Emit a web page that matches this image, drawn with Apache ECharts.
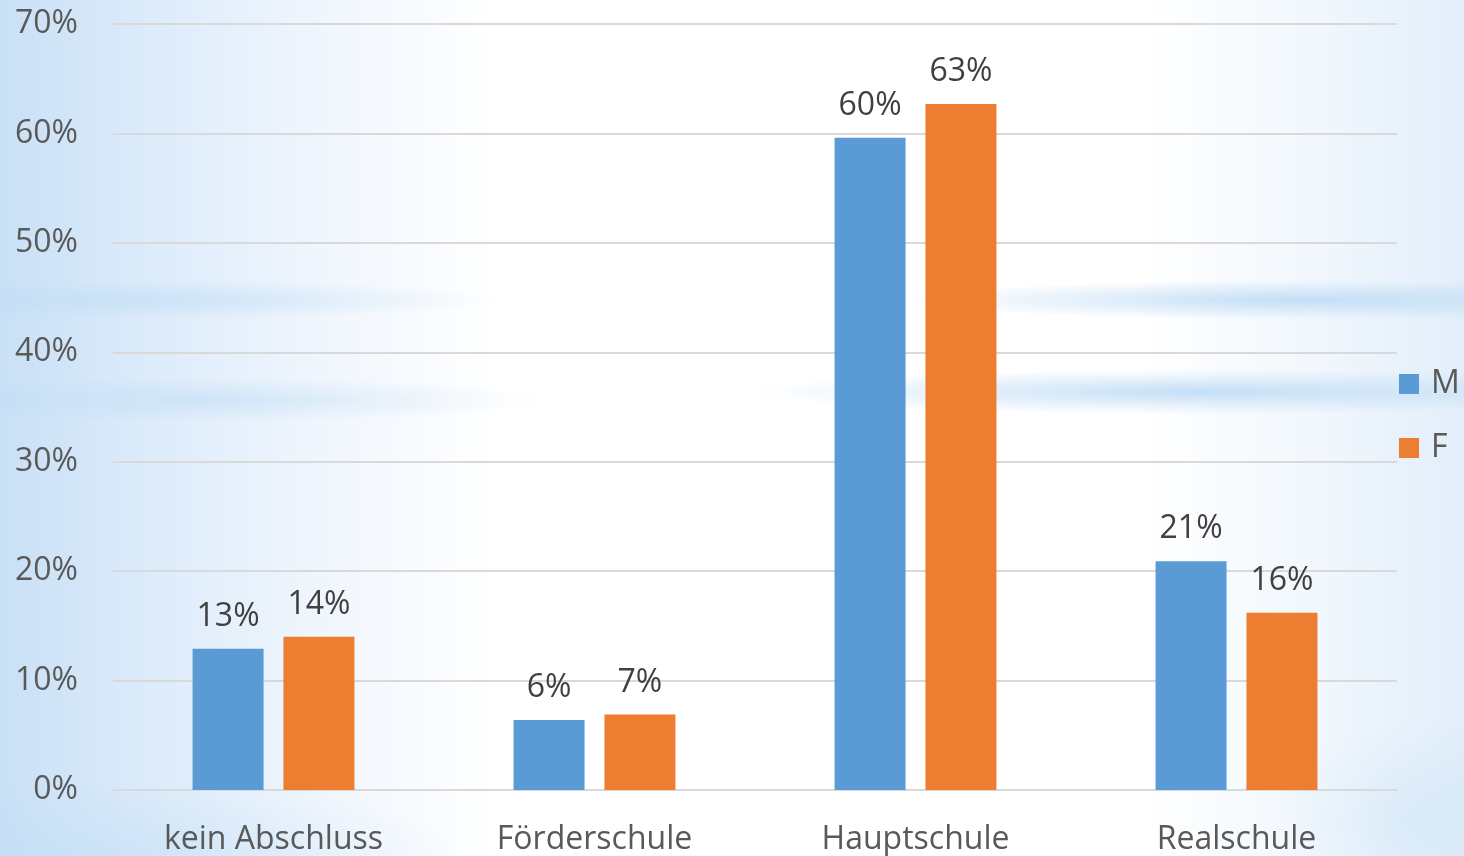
<!DOCTYPE html>
<html>
<head>
<meta charset="utf-8">
<script src="https://cdn.jsdelivr.net/npm/echarts@6/dist/echarts.min.js"></script>
<style>html,body{margin:0;padding:0;}#c{width:1464px;height:856px;}</style>
</head>
<body>
<div id="c"></div>
<script>
const categories = ['kein Abschluss', 'Förderschule', 'Hauptschule', 'Realschule'];
const seriesNames = ['M', 'F'];
const valuesM = [12.9, 6.4, 59.6, 20.9];
const valuesF = [14.0, 6.9, 62.7, 16.2];
const yTicks = [0, 10, 20, 30, 40, 50, 60, 70];

const chart = echarts.init(document.getElementById('c'), null, {renderer: 'canvas'});
const FONT = 'Open Sans';

function blob(cx, cy, w, h, alpha, rgb) {
  rgb = rgb || '190,220,245';
  return {
    type: 'rect', silent: true, z: -10,
    x: cx, y: cy, scaleX: w / h, scaleY: 1,
    shape: {x: -h / 2, y: -h / 2, width: h, height: h},
    style: {
      fill: {
        type: 'radial', x: 0.5, y: 0.5, r: 0.5,
        colorStops: [
          {offset: 0, color: 'rgba(' + rgb + ',' + alpha + ')'},
          {offset: 1, color: 'rgba(' + rgb + ',0)'}
        ]
      }
    }
  };
}

chart.setOption({
  backgroundColor: {
    type: 'linear', x: 0, y: 0, x2: 1, y2: 0,
    colorStops: [
      {offset: 0, color: '#c9e0f6'},
      {offset: 0.1, color: '#dcebfa'},
      {offset: 0.22, color: '#f0f6fd'},
      {offset: 0.34, color: '#ffffff'},
      {offset: 0.78, color: '#ffffff'},
      {offset: 0.9, color: '#f1f7fd'},
      {offset: 1, color: '#e2eefa'}
    ]
  },
  graphic: [
    blob(120, 860, 700, 160, 0.5),
    blob(1420, 820, 300, 200, 0.35),
    blob(1300, 300, 800, 40, 0.9),
    blob(150, 300, 700, 40, 0.6),
    blob(1200, 392, 900, 45, 0.9),
    blob(200, 400, 700, 45, 0.55)
  ],
  textStyle: {fontFamily: FONT},
  animation: false,
  grid: {left: 113, right: 67, top: 24, bottom: 65, containLabel: false},
  legend: {
    orient: 'vertical', left: 1399, top: 368, padding: 0,
    itemWidth: 20, itemHeight: 20, itemGap: 32,
    icon: 'rect',
    data: seriesNames,
    textStyle: {fontFamily: FONT, fontSize: 32, color: '#595959', padding: [0, 0, 0, 7]}
  },
  xAxis: {
    type: 'category', data: categories,
    axisLine: {show: true, lineStyle: {color: '#d9d9d9', width: 2}},
    axisTick: {show: false},
    axisLabel: {fontFamily: FONT, fontSize: 32, color: '#595959', margin: 34}
  },
  yAxis: {
    type: 'value', min: 0, max: 70, interval: 10,
    axisLine: {show: false}, axisTick: {show: false},
    splitLine: {lineStyle: {color: '#d9d9d9', width: 2}},
    axisLabel: {
      fontFamily: FONT, fontSize: 32, color: '#595959', margin: 35,
      padding: [4, 0, 0, 0],
      formatter: v => (yTicks.includes(v) ? v + '%' : '')
    }
  },
  series: [
    {
      name: seriesNames[0], type: 'bar', data: valuesM,
      barWidth: 71, barGap: '28%',
      itemStyle: {color: '#5B9BD5'},
      label: {show: true, position: 'top', distance: 16, fontFamily: FONT, fontSize: 32, color: '#404040',
        formatter: p => Math.round(p.value) + '%'}
    },
    {
      name: seriesNames[1], type: 'bar', data: valuesF,
      barWidth: 71, barGap: '28%',
      itemStyle: {color: '#ED7D31'},
      label: {show: true, position: 'top', distance: 16, fontFamily: FONT, fontSize: 32, color: '#404040',
        formatter: p => Math.round(p.value) + '%'}
    }
  ]
});
</script>
</body>
</html>
